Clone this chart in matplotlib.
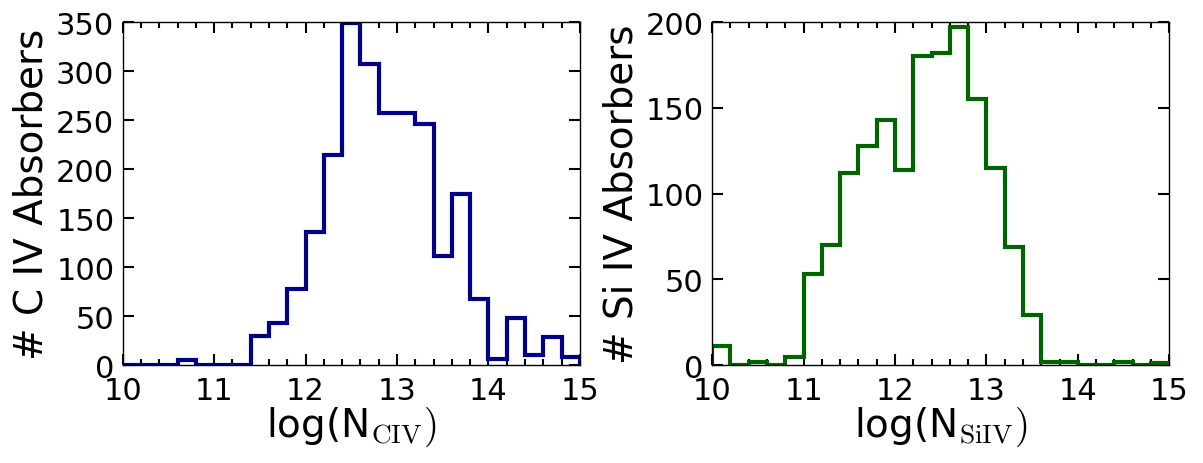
import numpy as np
import matplotlib.pyplot as plt

plt.rcParams['mathtext.fontset'] = 'cm'

# bin edges, log N from 10 to 15 in steps of 0.2
edges = np.linspace(10, 15, 26)

civ_counts = [0, 0, 0, 5, 0, 0, 0, 30, 43, 78, 136, 214, 349, 307, 257,
              257, 246, 111, 175, 67, 6, 48, 10, 29, 8]
siiv_counts = [11, 0, 2, 0, 5, 53, 70, 112, 128, 143, 114, 180, 182, 197, 155,
               115, 69, 29, 2, 2, 0, 0, 2, 0, 1]

fig = plt.figure(figsize=(12.03, 4.64), dpi=100)
ax1 = fig.add_axes([0.102, 0.211, 0.380, 0.739])
ax2 = fig.add_axes([0.592, 0.211, 0.380, 0.739])

panels = [
    (ax1, civ_counts, '#000088', 350, [0, 50, 100, 150, 200, 250, 300, 350],
     '# C IV Absorbers', r'log(N$_{\rm CIV})$'),
    (ax2, siiv_counts, '#006400', 200, [0, 50, 100, 150, 200],
     '# Si IV Absorbers', r'log(N$_{\rm SiIV})$'),
]

for ax, counts, col, ymax, yt, ylab, xlab in panels:
    ax.hist(edges[:-1], bins=edges, weights=counts, histtype='step',
            color=col, linewidth=3)
    ax.set_xlim(10, 15)
    ax.set_ylim(0, ymax)
    ax.set_xticks([10, 11, 12, 13, 14, 15])
    ax.set_xticks(np.arange(10, 15.01, 0.2), minor=True)
    ax.set_yticks(yt)
    ax.tick_params(which='both', direction='in', top=True, right=True,
                   labelsize=22, width=1.5)
    ax.tick_params(which='major', length=8)
    ax.tick_params(which='minor', length=4)
    ax.tick_params(axis='x', which='major', pad=8)
    ax.tick_params(axis='y', which='major', pad=6)
    ax.set_ylabel(ylab, fontsize=28, labelpad=4)
    ax.set_xlabel(xlab, fontsize=28, labelpad=0)
    for s in ax.spines.values():
        s.set_linewidth(1)

fig.savefig('out.png', dpi=100)
